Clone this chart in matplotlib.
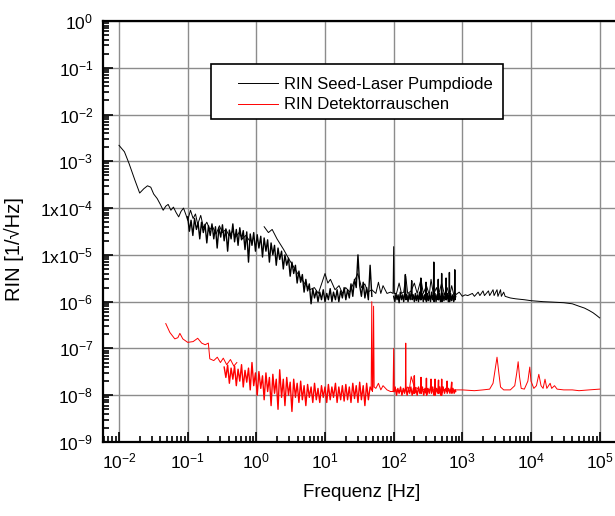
import matplotlib
matplotlib.use("Agg")
import matplotlib.pyplot as plt
from matplotlib.ticker import FixedLocator, FixedFormatter, LogLocator, NullFormatter
from matplotlib.patches import Rectangle

plt.rcParams['font.family'] = ['Liberation Sans', 'DejaVu Sans']
plt.rcParams['mathtext.default'] = 'regular'

# --- data ------------------------------------------------------------------
# seed laser, slow scan (0.01 .. 0.8 Hz)
seed_f1 = [0.010, 0.012, 0.014, 0.017, 0.020, 0.023, 0.026, 0.029, 0.032, 0.036,
           0.040, 0.044, 0.048, 0.052, 0.057, 0.062, 0.068, 0.074, 0.080, 0.087,
           0.095, 0.10, 0.11, 0.12, 0.13, 0.14, 0.155, 0.17, 0.19, 0.21,
           0.23, 0.26, 0.29, 0.32, 0.36, 0.40, 0.45, 0.50, 0.56, 0.63, 0.70, 0.80]
seed_v1 = [2.2e-3, 1.6e-3, 9e-4, 4e-4, 2.1e-4, 2.6e-4, 3.0e-4, 2.8e-4, 2.0e-4, 1.6e-4,
           1.2e-4, 9e-5, 1.1e-4, 1.2e-4, 9e-5, 1.05e-4, 8e-5, 6.5e-5, 8.5e-5, 1.0e-4,
           7e-5, 5.5e-5, 9e-5, 6e-5, 7.5e-5, 4.5e-5, 7e-5, 3.8e-5, 5e-5, 3.5e-5,
           4e-5, 2.8e-5, 4.2e-5, 3e-5, 3.5e-5, 2.6e-5, 3.2e-5, 2.4e-5, 3.0e-5, 2.2e-5, 2.6e-5, 2.0e-5]

# seed laser, dense scan (0.1 .. 48 Hz)
seed_f2 = [0.100, 0.106, 0.112, 0.119, 0.126, 0.134, 0.142, 0.150, 0.159, 0.169,
           0.179, 0.190, 0.201, 0.213, 0.226, 0.240, 0.254, 0.269, 0.285, 0.303,
           0.321, 0.340, 0.360, 0.382, 0.405, 0.429, 0.455, 0.482, 0.511, 0.542,
           0.574, 0.609, 0.645, 0.684, 0.725, 0.769, 0.815, 0.864, 0.916, 0.971,
           1.03, 1.09, 1.16, 1.23, 1.30, 1.38, 1.46, 1.55, 1.64, 1.74,
           1.84, 1.95, 2.07, 2.19, 2.33, 2.47, 2.61, 2.77, 2.94, 3.11,
           3.30, 3.50, 3.71, 3.93, 4.17, 4.42, 4.68, 4.96, 5.26, 5.58,
           5.91, 6.27, 6.64, 7.04, 7.47, 7.91, 8.39, 8.89, 9.43, 10.0,
           10.6, 11.2, 11.9, 12.6, 13.3, 14.2, 15.0, 15.9, 16.9, 17.9,
           19.0, 20.1, 21.3, 22.6, 23.9, 25.4, 26.9, 28.5, 30.2, 32.0,
           33.9, 36.0, 38.1, 40.4, 42.8, 45.4, 48.1]
seed_v2 = [6.5e-5, 3.2e-5, 5.5e-5, 2.6e-5, 6e-5, 3.5e-5, 4.8e-5, 2.2e-5, 5e-5, 3e-5,
           4.5e-5, 1.8e-5, 4.2e-5, 2.6e-5, 4.6e-5, 2.2e-5, 4e-5, 1.4e-5, 3.8e-5, 2.4e-5,
           4.4e-5, 2e-5, 3.6e-5, 1.2e-5, 3.4e-5, 2.2e-5, 4.6e-5, 1.9e-5, 3.5e-5, 1.6e-5,
           3.8e-5, 2.1e-5, 3.3e-5, 1.3e-5, 3.1e-5, 7e-6, 2.8e-5, 1.6e-5, 3e-5, 1.2e-5,
           2.7e-5, 1.4e-5, 2.5e-5, 9e-6, 2.3e-5, 1.2e-5, 2.1e-5, 7e-6, 1.8e-5, 1e-5,
           1.6e-5, 6e-6, 1.4e-5, 8e-6, 1.2e-5, 5e-6, 1.0e-5, 6e-6, 8.5e-6, 3.5e-6,
           7e-6, 4e-6, 6e-6, 2.5e-6, 4.5e-6, 2.6e-6, 3.8e-6, 1.6e-6, 3e-6, 1.7e-6,
           2.4e-6, 9e-7, 1.9e-6, 1.2e-6, 1.7e-6, 1.0e-6, 1.6e-6, 1.1e-6, 1.8e-6, 1.0e-6,
           1.5e-6, 1.1e-6, 1.9e-6, 1.0e-6, 1.6e-6, 1.1e-6, 1.8e-6, 1.0e-6, 1.7e-6, 1.2e-6,
           2.0e-6, 1.1e-6, 1.8e-6, 1.2e-6, 2.4e-6, 1.3e-6, 3e-6, 2e-6, 1.0e-5, 2.2e-6,
           1.3e-6, 2.6e-6, 1.2e-6, 2e-6, 1.1e-6, 6e-6, 1.3e-6]

# seed laser, medium scan (1.3 .. 800 Hz)
seed_f3 = [1.3, 1.5, 1.7, 2.0, 2.5, 3.0, 4.0, 5.0, 6.0, 7.0, 8.0, 9.0, 10, 11, 12, 14, 16, 18,
           20, 23, 26, 30, 34, 38, 42, 48, 55, 60, 65, 70, 80, 90, 98, 100, 102, 110, 120,
           130, 140, 150, 160, 180, 200, 220, 250, 270, 300, 330, 350, 380, 420, 450, 500,
           550, 600, 650, 700, 750, 800]
seed_v3 = [4e-5, 3e-5, 3.5e-5, 2.2e-5, 1.3e-5, 8e-6, 4e-6, 2.5e-6, 1.8e-6, 2e-6, 1.5e-6, 2.5e-6,
           4e-6, 2.5e-6, 3e-6, 1.8e-6, 2.2e-6, 1.5e-6, 2e-6, 1.6e-6, 2.5e-6, 4e-6, 2e-6, 2.4e-6,
           1.6e-6, 1.8e-6, 1.5e-6, 2.6e-6, 1.5e-6, 2.2e-6, 1.5e-6, 1.6e-6, 1.5e-6, 1.5e-5, 1.5e-6,
           1.5e-6, 2.5e-6, 1.5e-6, 1.6e-6, 3.5e-6, 1.5e-6, 1.7e-6, 2.5e-6, 1.5e-6, 3e-6, 1.5e-6,
           2.2e-6, 1.4e-6, 3e-6, 1.4e-6, 2e-6, 1.4e-6, 2.5e-6, 1.4e-6, 2e-6, 1.3e-6, 2.2e-6, 1.4e-6, 1.5e-6]

# seed laser, dense scan (100 .. 800 Hz)
seed_f4 = [100, 104, 108, 112, 116, 120, 125, 130, 135, 140,
           145, 148, 151, 156, 162, 168, 174, 180, 183, 186,
           193, 200, 207, 214, 222, 230, 238, 246, 249, 252,
           260, 270, 280, 290, 296, 300, 310, 320, 332, 344,
           356, 368, 380, 384, 388, 400, 414, 428, 442, 446,
           450, 465, 480, 496, 500, 504, 520, 540, 560, 575,
           580, 585, 605, 625, 645, 648, 652, 675, 700, 725,
           750, 772, 776, 780, 800]
seed_v4 = [1.3e-6, 1.0e-6, 1.5e-6, 1.1e-6, 1.4e-6, 0.95e-6, 1.6e-6, 1.1e-6, 1.4e-6, 1.0e-6,
           1.5e-6, 3.8e-6, 1.1e-6, 1.4e-6, 1.0e-6, 1.5e-6, 1.1e-6, 1.6e-6, 2.8e-6, 1.1e-6,
           1.4e-6, 1.0e-6, 1.5e-6, 1.05e-6, 1.4e-6, 1.0e-6, 1.6e-6, 1.1e-6, 3.2e-6, 1.1e-6,
           1.5e-6, 1.0e-6, 1.4e-6, 1.1e-6, 2.6e-6, 1.0e-6, 1.5e-6, 1.05e-6, 1.4e-6, 1.0e-6,
           1.6e-6, 1.1e-6, 1.4e-6, 7.0e-6, 1.0e-6, 1.5e-6, 1.0e-6, 1.4e-6, 1.1e-6, 3.0e-6,
           1.1e-6, 1.5e-6, 1.0e-6, 1.4e-6, 4.0e-6, 1.0e-6, 1.5e-6, 1.05e-6, 1.4e-6, 1.1e-6,
           3.2e-6, 1.1e-6, 1.5e-6, 1.0e-6, 1.4e-6, 4.2e-6, 1.0e-6, 1.5e-6, 1.05e-6, 1.4e-6,
           1.0e-6, 1.5e-6, 4.8e-6, 1.1e-6, 1.3e-6]

# seed laser, high frequencies (800 Hz .. 100 kHz)
seed_f5 = [800, 900, 1000, 1100, 1200, 1400, 1500, 1700, 1800, 2000, 2100, 2400, 2500,
           2800, 2900, 3200, 3300, 3600, 3700, 4000, 4200, 5000, 6000, 8000, 1e4, 1.5e4,
           2e4, 3e4, 4e4, 5e4, 6e4, 7e4, 8e4, 9e4, 1e5]
seed_v5 = [1.4e-6, 1.6e-6, 1.3e-6, 1.4e-6, 1.35e-6, 1.5e-6, 1.3e-6, 1.6e-6, 1.35e-6, 1.7e-6,
           1.35e-6, 1.7e-6, 1.35e-6, 1.8e-6, 1.35e-6, 1.8e-6, 1.3e-6, 1.8e-6, 1.3e-6, 1.6e-6,
           1.3e-6, 1.2e-6, 1.15e-6, 1.1e-6, 1.05e-6, 1.0e-6, 9.8e-7, 9.5e-7, 9e-7, 8e-7,
           7.3e-7, 6.5e-7, 5.8e-7, 5.1e-7, 4.5e-7]

# detector noise, slow scan (0.048 .. 0.52 Hz)
det_f1 = [0.048, 0.055, 0.065, 0.072, 0.077, 0.085, 0.10, 0.12, 0.14, 0.16, 0.18, 0.20,
          0.21, 0.24, 0.27, 0.30, 0.33, 0.37, 0.42, 0.47, 0.52]
det_v1 = [3.4e-7, 2.2e-7, 1.6e-7, 1.7e-7, 2.1e-7, 1.6e-7, 1.35e-7, 1.4e-7, 1.65e-7, 1.3e-7,
          1.2e-7, 1.3e-7, 6e-8, 5.5e-8, 6.5e-8, 5e-8, 6.2e-8, 4.5e-8, 5.8e-8, 4.2e-8, 5e-8]

# detector noise, dense scan (0.34 .. 48 Hz)
det_f2 = [0.340, 0.360, 0.382, 0.405, 0.429, 0.455, 0.482, 0.511, 0.542, 0.574,
          0.609, 0.645, 0.684, 0.725, 0.769, 0.815, 0.864, 0.916, 0.971, 1.03,
          1.09, 1.16, 1.23, 1.30, 1.38, 1.46, 1.55, 1.64, 1.74, 1.84,
          1.95, 2.07, 2.19, 2.33, 2.47, 2.61, 2.77, 2.94, 3.11, 3.30,
          3.50, 3.71, 3.93, 4.17, 4.42, 4.68, 4.96, 5.26, 5.58, 5.91,
          6.27, 6.64, 7.04, 7.47, 7.91, 8.39, 8.89, 9.43, 10.0, 10.6,
          11.2, 11.9, 12.6, 13.3, 14.2, 15.0, 15.9, 16.9, 17.9, 19.0,
          20.1, 21.3, 22.6, 23.9, 25.4, 26.9, 28.5, 30.2, 32.0, 33.9,
          36.0, 38.1, 40.4, 42.8, 45.4, 48.1]
det_v2 = [4e-8, 2.4e-8, 4.4e-8, 1.8e-8, 3.8e-8, 2.2e-8, 4.2e-8, 1.6e-8, 3.6e-8, 2e-8,
          4.5e-8, 1.5e-8, 3.4e-8, 1.9e-8, 3.8e-8, 1.3e-8, 5e-8, 1.6e-8, 3e-8, 1.0e-8,
          3.2e-8, 1.4e-8, 2.6e-8, 8e-9, 3e-8, 1.2e-8, 2.4e-8, 6e-9, 2.8e-8, 1.1e-8,
          2.2e-8, 5e-9, 3.5e-8, 9e-9, 2.2e-8, 6e-9, 2.4e-8, 1.0e-8, 1.9e-8, 4.5e-9,
          2.2e-8, 9e-9, 1.8e-8, 7e-9, 2e-8, 8e-9, 1.6e-8, 6e-9, 1.7e-8, 9e-9,
          1.5e-8, 7e-9, 1.8e-8, 8e-9, 1.4e-8, 7e-9, 1.6e-8, 9e-9, 1.5e-8, 7e-9,
          1.7e-8, 8e-9, 1.5e-8, 9e-9, 1.8e-8, 7e-9, 1.5e-8, 8e-9, 1.6e-8, 7.5e-9,
          1.7e-8, 8e-9, 1.5e-8, 7e-9, 1.8e-8, 8.5e-9, 1.6e-8, 7e-9, 1.9e-8, 8e-9,
          1.6e-8, 6e-9, 1.8e-8, 8e-9, 1.5e-8, 1.3e-8]

# detector noise, dense scan (100 .. 800 Hz)
det_f3 = [100, 105, 110, 115, 120, 126, 132, 138, 144, 150,
          157, 164, 171, 178, 186, 194, 198, 200, 202, 210,
          220, 230, 240, 248, 250, 252, 262, 274, 286, 298,
          300, 302, 315, 330, 345, 350, 355, 370, 385, 398,
          400, 402, 420, 440, 450, 455, 470, 485, 498, 500,
          502, 525, 550, 575, 598, 600, 602, 630, 660, 690,
          700, 705, 730, 760, 790, 800]
det_v3 = [1.2e-8, 1.5e-8, 1.0e-8, 1.4e-8, 1.1e-8, 1.5e-8, 1.0e-8, 1.4e-8, 1.1e-8, 1.5e-8,
          1.0e-8, 1.4e-8, 1.1e-8, 1.5e-8, 1.0e-8, 1.4e-8, 1.1e-8, 2.6e-8, 1.1e-8, 1.4e-8,
          1.0e-8, 1.5e-8, 1.1e-8, 1.2e-8, 2.4e-8, 1.1e-8, 1.5e-8, 1.0e-8, 1.4e-8, 1.1e-8,
          2.3e-8, 1.0e-8, 1.4e-8, 1.1e-8, 1.5e-8, 2.2e-8, 1.1e-8, 1.5e-8, 1.0e-8, 1.2e-8,
          2.2e-8, 1.0e-8, 1.4e-8, 1.1e-8, 2.1e-8, 1.1e-8, 1.5e-8, 1.0e-8, 1.2e-8, 2.2e-8,
          1.0e-8, 1.5e-8, 1.1e-8, 1.4e-8, 1.2e-8, 2.0e-8, 1.1e-8, 1.4e-8, 1.1e-8, 1.5e-8,
          1.9e-8, 1.1e-8, 1.4e-8, 1.1e-8, 1.3e-8, 1.2e-8]

# detector noise, wide scan (47 Hz .. 100 kHz)
det_f4 = [47, 48, 49, 50, 51, 52, 55, 60, 65, 70, 80, 90, 98, 100, 102, 110, 130, 148, 150,
          152, 160, 170, 180, 200, 250, 300, 400, 500, 600, 800, 1000, 1500, 2000, 2500,
          2800, 3000, 3200, 3400, 3600, 4000, 5000, 5800, 6200, 6500, 6800, 7200, 8000,
          9000, 9600, 1.0e4, 1.1e4, 1.2e4, 1.3e4, 1.4e4, 1.5e4, 1.6e4, 1.7e4, 1.9e4, 2.0e4,
          2.2e4, 2.4e4, 3e4, 4e4, 5e4, 7e4, 1e5]
det_v4 = [1.3e-8, 1e-6, 1.2e-8, 1.5e-8, 8e-7, 1.5e-8, 1.4e-8, 1.8e-8, 1.3e-8, 1.6e-8, 1.3e-8,
          1.2e-8, 1.2e-8, 1e-7, 1.2e-8, 1.3e-8, 1.2e-8, 1.3e-8, 1.3e-7, 1.3e-8, 1.5e-8, 1.4e-8,
          2.5e-8, 1.5e-8, 1.3e-8, 1.35e-8, 1.3e-8, 1.35e-8, 1.3e-8, 1.3e-8, 1.3e-8, 1.25e-8,
          1.3e-8, 1.35e-8, 1.8e-8, 3.5e-8, 6.5e-8, 3e-8, 1.5e-8, 1.3e-8, 1.3e-8, 1.6e-8, 3e-8,
          5.2e-8, 2.5e-8, 1.4e-8, 1.35e-8, 2e-8, 4e-8, 2e-8, 1.4e-8, 1.6e-8, 2.8e-8, 1.6e-8,
          1.4e-8, 2.2e-8, 1.4e-8, 1.8e-8, 1.4e-8, 1.6e-8, 1.35e-8, 1.3e-8, 1.3e-8, 1.25e-8,
          1.3e-8, 1.35e-8]

seed_label = 'RIN Seed-Laser Pumpdiode'
det_label = 'RIN Detektorrauschen'

x_ticks = [1e-2, 1e-1, 1e0, 1e1, 1e2, 1e3, 1e4, 1e5]
x_tick_labels = ['$10^{-2}$', '$10^{-1}$', '$10^{0}$', '$10^{1}$', '$10^{2}$',
                 '$10^{3}$', '$10^{4}$', '$10^{5}$']
y_ticks = [1e-9, 1e-8, 1e-7, 1e-6, 1e-5, 1e-4, 1e-3, 1e-2, 1e-1, 1e0]
y_tick_labels = ['$10^{-9}$', '$10^{-8}$', '$10^{-7}$', '$10^{-6}$', '$1x10^{-5}$',
                 '$1x10^{-4}$', '$10^{-3}$', '$10^{-2}$', '$10^{-1}$', '$10^{0}$']

# --- figure ----------------------------------------------------------------
W, H = 615, 516
fig = plt.figure(figsize=(W / 100, H / 100), dpi=100)
# right end of the frame runs past the picture edge, like the original
ax = fig.add_axes([103 / W, 74 / H, 531 / W, 421 / H])
ax.set_xscale('log')
ax.set_yscale('log')
ax.set_xlim(10 ** -2.233, 10 ** 5.5)
ax.set_ylim(1e-9, 1e0)

thin, dense = 0.7, 1.0
for f, v, w in [(seed_f1, seed_v1, thin), (seed_f2, seed_v2, dense), (seed_f3, seed_v3, thin),
                (seed_f4, seed_v4, dense), (seed_f5, seed_v5, thin)]:
    ax.plot(f, v, color='black', lw=w, zorder=3)
for f, v, w in [(det_f1, det_v1, thin), (det_f2, det_v2, dense), (det_f3, det_v3, dense),
                (det_f4, det_v4, thin)]:
    ax.plot(f, v, color='#ff0000', lw=w, zorder=3)

ax.grid(True, which='major', color='#8c8c8c', lw=1.0, zorder=1)
ax.set_axisbelow(True)

ax.xaxis.set_major_locator(FixedLocator(x_ticks))
ax.xaxis.set_major_formatter(FixedFormatter(x_tick_labels))
ax.yaxis.set_major_locator(FixedLocator(y_ticks))
ax.yaxis.set_major_formatter(FixedFormatter(y_tick_labels))
subs = [2, 3, 4, 5, 6, 7, 8, 9]
ax.xaxis.set_minor_locator(LogLocator(base=10, subs=subs, numticks=20))
ax.yaxis.set_minor_locator(LogLocator(base=10, subs=subs, numticks=20))
ax.xaxis.set_minor_formatter(NullFormatter())
ax.yaxis.set_minor_formatter(NullFormatter())

ax.tick_params(which='both', direction='in', top=False, right=False,
               width=1.2, labelsize=12.5, pad=7)
ax.tick_params(which='major', length=7)
ax.tick_params(which='minor', length=4)
for s in ax.spines.values():
    s.set_linewidth(1.6)

ax.set_xlabel('Frequenz [Hz]', fontsize=13.5)
ax.xaxis.set_label_coords((362 - 103) / 531, -0.1)
ax.set_ylabel('RIN [1/\u221aHz]', fontsize=14.5)
ax.yaxis.set_label_coords((24 - 103) / 531, (442 - 249) / 421)

# legend box
box = Rectangle((211 / W, 1 - 119 / H), (503 - 211) / W, (119 - 64) / H,
                transform=fig.transFigure, facecolor='white', edgecolor='black',
                lw=1.2, zorder=4)
ax.add_patch(box)
h1, = ax.plot([], [], color='black', lw=thin)
h2, = ax.plot([], [], color='#ff0000', lw=thin)
leg = ax.legend([h1, h2], [seed_label, det_label], loc='upper left',
                bbox_to_anchor=(226 / W, 1 - 65 / H), bbox_transform=fig.transFigure,
                frameon=False, fontsize=12, handlelength=2.4, handletextpad=0.4,
                labelspacing=0.35, borderpad=0.2)
leg.set_zorder(5)

fig.savefig('out.png', dpi=100)
